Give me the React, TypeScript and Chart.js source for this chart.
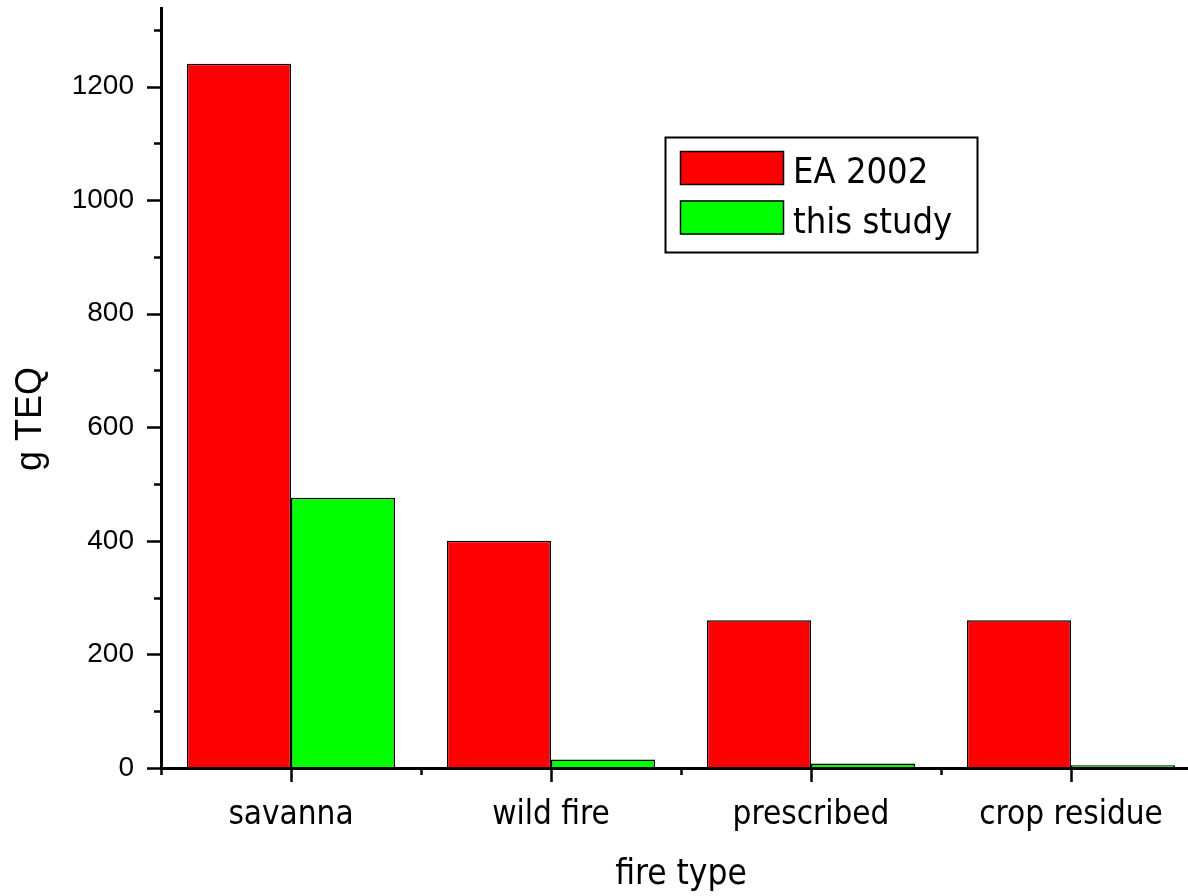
import React, { useEffect, useRef } from "react";
import { Chart, registerables } from "chart.js";

Chart.register(...registerables);

const categories = ["savanna", "wild fire", "prescribed", "crop residue"];
const ea2002 = [1240, 400, 260, 260];
const thisStudy = [476, 15, 8, 5];
const seriesNames = ["EA 2002", "this study"];
const seriesColors = ["#ff0000", "#00ff00"];
const yTitle = "g TEQ";
const xTitle = "fire type";
const yMax = 1340;
const yStep = 100;
const yLabelStep = 200;

const CAT_FONT = "'DejaVu Sans Condensed', 'DejaVu Sans', sans-serif";
const NUM_FONT = "'Liberation Sans', Arial, sans-serif";

const axesPlugin = {
  id: "originAxes",
  afterDatasetsDraw(chart: any) {
    const { ctx, chartArea, scales } = chart;
    const x = scales.x;
    const y = scales.y;
    ctx.save();
    ctx.strokeStyle = "#000";
    ctx.lineWidth = 2.5;
    y.ticks.forEach((t: any) => {
      const py = Math.round(y.getPixelForValue(t.value)) + 0.5;
      const major = t.value % yLabelStep === 0;
      const len = major ? 14 : 7;
      ctx.beginPath();
      ctx.moveTo(chartArea.left - len, py);
      ctx.lineTo(chartArea.left, py);
      ctx.stroke();
    });
    const n = categories.length;
    for (let i = 0; i < n; i++) {
      const px = Math.round(x.getPixelForValue(i)) + 0.5;
      ctx.beginPath();
      ctx.moveTo(px, chartArea.bottom);
      ctx.lineTo(px, chartArea.bottom + 14);
      ctx.stroke();
    }
    for (let i = 0; i <= n; i++) {
      let px: number;
      if (i === 0) px = chartArea.left;
      else if (i === n) px = chartArea.right;
      else px = (x.getPixelForValue(i - 1) + x.getPixelForValue(i)) / 2;
      px = Math.round(px) + 0.5;
      ctx.beginPath();
      ctx.moveTo(px, chartArea.bottom);
      ctx.lineTo(px, chartArea.bottom + 7);
      ctx.stroke();
    }
    ctx.lineWidth = 3;
    ctx.beginPath();
    ctx.moveTo(chartArea.left + 0.5, chartArea.top);
    ctx.lineTo(chartArea.left + 0.5, chartArea.bottom + 1.5);
    ctx.stroke();
    ctx.beginPath();
    ctx.moveTo(chartArea.left - 1, chartArea.bottom + 0.5);
    ctx.lineTo(chart.width, chartArea.bottom + 0.5);
    ctx.stroke();

    // y axis title
    ctx.save();
    ctx.translate(31, 419);
    ctx.rotate(-Math.PI / 2);
    ctx.fillStyle = "#000";
    ctx.font = `36px ${NUM_FONT}`;
    ctx.textAlign = "center";
    ctx.textBaseline = "middle";
    ctx.fillText(yTitle, 0, 0);
    ctx.restore();
    ctx.restore();
  },
};

const legendPlugin = {
  id: "boxLegend",
  afterDraw(chart: any) {
    const { ctx } = chart;
    ctx.save();
    ctx.fillStyle = "#fff";
    ctx.fillRect(665, 137, 313, 116);
    ctx.strokeStyle = "#000";
    ctx.lineWidth = 2;
    ctx.strokeRect(665.5, 137.5, 312, 115);
    chart.data.datasets.forEach((ds: any, i: number) => {
      const top = 151 + i * 49.5;
      ctx.fillStyle = ds.backgroundColor;
      ctx.fillRect(680, top, 104, 34);
      ctx.lineWidth = 1.5;
      ctx.strokeStyle = "#000";
      ctx.strokeRect(680.5, top + 0.5, 103, 33);
      ctx.fillStyle = "#000";
      ctx.font = `36px ${CAT_FONT}`;
      ctx.textAlign = "left";
      ctx.textBaseline = "alphabetic";
      ctx.fillText(ds.label, 793, top + 32);
    });
    ctx.restore();
  },
};

export default function App() {
  const ref = useRef<HTMLCanvasElement | null>(null);
  useEffect(() => {
    if (!ref.current) return;
    const chart = new Chart(ref.current, {
      type: "bar",
      data: {
        labels: categories,
        datasets: [
          {
            label: seriesNames[0],
            data: ea2002,
            backgroundColor: seriesColors[0],
            borderColor: "#000",
            borderWidth: 1.5,
            categoryPercentage: 0.8,
            barPercentage: 1.0,
          },
          {
            label: seriesNames[1],
            data: thisStudy,
            backgroundColor: seriesColors[1],
            borderColor: "#000",
            borderWidth: 1.5,
            categoryPercentage: 0.8,
            barPercentage: 1.0,
          },
        ],
      },
      options: {
        animation: false,
        responsive: false,
        devicePixelRatio: 1,
        layout: { padding: { top: 7, right: 9, left: 0, bottom: 0 } },
        plugins: { legend: { display: false }, tooltip: { enabled: false } },
        scales: {
          x: {
            type: "category",
            offset: true,
            grid: { display: false, drawTicks: false },
            border: { display: false },
            ticks: {
              color: "#000",
              padding: 28,
              maxRotation: 0,
              autoSkip: false,
              font: { family: CAT_FONT, size: 33 },
            },
            title: {
              display: true,
              text: xTitle,
              color: "#000",
              font: { family: CAT_FONT, size: 35 },
              padding: { top: 0, bottom: 0 },
            },
            afterFit: (s: any) => {
              s.height = 128;
              s.paddingLeft = 0;
              s.paddingRight = 0;
            },
          },
          y: {
            min: 0,
            max: yMax,
            grid: { display: false, drawTicks: false },
            border: { display: false },
            afterBuildTicks: (s: any) => {
              const t: any[] = [];
              for (let v = 0; v <= yMax; v += yStep) t.push({ value: v });
              s.ticks = t;
            },
            ticks: {
              color: "#000",
              padding: 27,
              font: { family: NUM_FONT, size: 28 },
              callback: (v: any) => (Number(v) % yLabelStep === 0 ? String(v) : ""),
            },
            title: { display: false },
            afterFit: (s: any) => {
              s.width = 161;
              s.paddingTop = 0;
              s.paddingBottom = 0;
            },
          },
        },
      },
      plugins: [axesPlugin, legendPlugin],
    });
    return () => chart.destroy();
  }, []);
  return (
    <div
      style={{
        position: "fixed",
        left: 0,
        top: 0,
        width: 1188,
        height: 896,
        overflow: "hidden",
        background: "#fff",
      }}
    >
      <canvas ref={ref} width={1210} height={896} style={{ display: "block" }} />
    </div>
  );
}
